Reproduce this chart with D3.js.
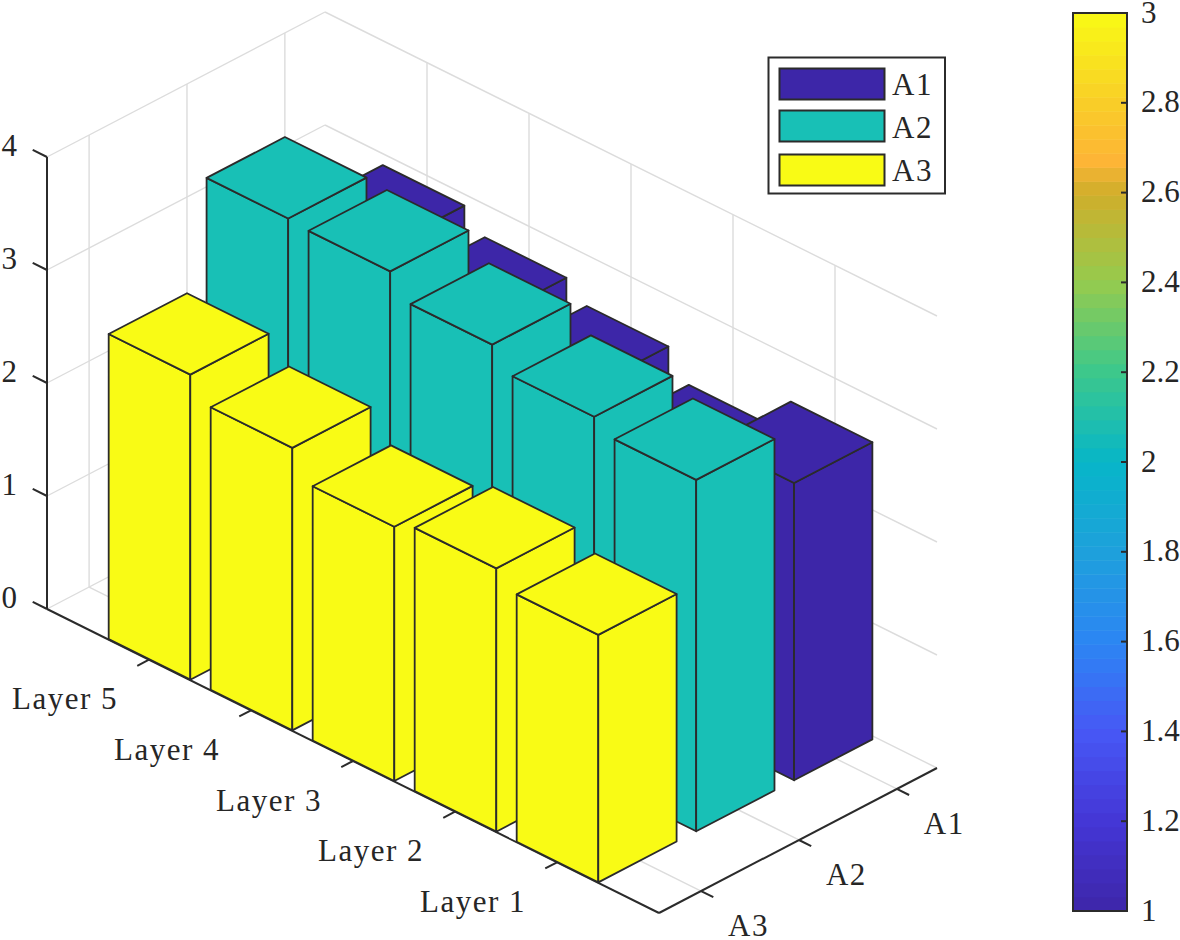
<!DOCTYPE html>
<html>
<head>
<meta charset="utf-8">
<script src="https://d3js.org/d3.v7.min.js"></script>
<style>
html, body { margin: 0; padding: 0; background: #fff; }
text { font-family: "Liberation Serif", serif; fill: #262626; }
</style>
</head>
<body>
<script>
// Data, back to front along the layer axis
var layers = ["Layer 5", "Layer 4", "Layer 3", "Layer 2", "Layer 1"];
var series = ["A3", "A2", "A1"];
var a1 = [2.93, 2.74, 2.58, 2.33, 2.63];
var a2 = [3.63, 3.61, 3.41, 3.22, 3.11];
var a3 = [2.70, 2.50, 2.25, 2.33, 2.19];
var zTicks = [0, 1, 2, 3, 4];
var cbTicks = [1, 1.2, 1.4, 1.6, 1.8, 2, 2.2, 2.4, 2.6, 2.8, 3];
var cbStops = [1, 1.2, 1.4, 1.6, 1.8, 2, 2.2, 2.4, 2.6, 2.67, 2.8, 3];
var cbColors = ["#3d26a8", "#4436d6", "#4758f5", "#2c86f3", "#1ea0dc", "#07b6c8",
                "#3cc88c", "#95cb4e", "#d0ae2a", "#fdb536", "#f9ce28", "#f9fb15"];
var barColors = {A1: "#3d26a8", A2: "#18c0b6", A3: "#f9fb15"};
var legendItems = ["A1", "A2", "A3"];

var width = 1180, height = 940;
var svg = d3.select("body").append("svg")
    .attr("width", width)
    .attr("height", height)
    .style("display", "block");

// Oblique projection: each data axis gets its own screen offset scales
var origin = {x: 47, y: 609};
var layerMax = 6, depthMax = 2.84, depthStart = 0.43, barStart = 0.405, barHalf = 0.4;
var layerX = d3.scaleLinear().domain([0, layerMax]).range([0, 612]);
var layerY = d3.scaleLinear().domain([0, layerMax]).range([0, 304]);
var depthX = d3.scaleLinear().domain([0, depthMax]).range([0, 278]);
var depthY = d3.scaleLinear().domain([0, depthMax]).range([0, -145]);
var zY = d3.scaleLinear().domain([0, 4]).range([0, -452]);

function project(t, d, z) {
  return [origin.x + layerX(t) + depthX(d), origin.y + layerY(t) + depthY(d) + zY(z)];
}
var line = d3.line();

function seg(g, a, b, color, w) {
  g.append("path").attr("d", line([a, b])).attr("stroke", color)
    .attr("stroke-width", w).attr("fill", "none");
}

// Grid
var grid = svg.append("g");
var gridColor = "#dcdcdc";
zTicks.forEach(function(z) {
  seg(grid, project(0, 0, z), project(0, depthMax, z), gridColor, 1.4);
  seg(grid, project(0, depthMax, z), project(layerMax, depthMax, z), gridColor, 1.4);
});
layers.forEach(function(l, i) {
  var t = i + 1;
  seg(grid, project(t, depthMax, 0), project(t, depthMax, 4), gridColor, 1.4);
  seg(grid, project(t, 0, 0), project(t, depthMax, 0), gridColor, 1.4);
});
series.forEach(function(s, j) {
  var d = depthStart + j;
  seg(grid, project(0, d, 0), project(0, d, 4), gridColor, 1.4);
  seg(grid, project(0, d, 0), project(layerMax, d, 0), gridColor, 1.4);
});

// Axes
var axes = svg.append("g");
var axisColor = "#2b2b2b";
seg(axes, project(0, 0, 0), project(0, 0, 4), axisColor, 2);
seg(axes, project(0, 0, 0), project(layerMax, 0, 0), axisColor, 2);
seg(axes, project(layerMax, 0, 0), project(layerMax, depthMax, 0), axisColor, 2);

zTicks.forEach(function(z) {
  var p = project(0, 0, z);
  seg(axes, p, project(-0.14, 0, z), axisColor, 2);
  axes.append("text").attr("x", 17).attr("y", p[1] - 1)
    .attr("text-anchor", "end").attr("font-size", 31).text(z);
});
layers.forEach(function(l, i) {
  var p = project(i + 1, 0, 0);
  seg(axes, p, project(i + 1, -0.12, 0), axisColor, 2);
  axes.append("text").attr("x", p[0] - 31).attr("y", p[1] + 49.5)
    .attr("text-anchor", "end").attr("font-size", 31).attr("letter-spacing", 1.5).text(l);
});
series.forEach(function(s, j) {
  var p = project(layerMax, depthStart + j, 0);
  seg(axes, p, project(layerMax + 0.12, depthStart + j, 0), axisColor, 2);
  axes.append("text").attr("x", p[0] + 27).attr("y", p[1] + 45)
    .attr("font-size", 31).attr("letter-spacing", 1.5).text(s);
});

// Bars, painted back to front
var barValues = {A1: a1, A2: a2, A3: a3};
var bars = [];
layers.forEach(function(l, i) {
  for (var j = series.length - 1; j >= 0; j--) {
    bars.push({t: i + 1, d: barStart + j, h: barValues[series[j]][i], color: barColors[series[j]]});
  }
});
var barG = svg.append("g").selectAll("g").data(bars).enter().append("g")
    .attr("fill", function(b) { return b.color; })
    .attr("stroke", "#2b2b2b")
    .attr("stroke-width", 1.8)
    .attr("stroke-linejoin", "round");

function face(pts) { return line(pts) + "Z"; }
// left face
barG.append("path").attr("d", function(b) {
  return face([project(b.t - barHalf, b.d - barHalf, 0), project(b.t + barHalf, b.d - barHalf, 0),
               project(b.t + barHalf, b.d - barHalf, b.h), project(b.t - barHalf, b.d - barHalf, b.h)]);
});
// right face
barG.append("path").attr("d", function(b) {
  return face([project(b.t + barHalf, b.d - barHalf, 0), project(b.t + barHalf, b.d + barHalf, 0),
               project(b.t + barHalf, b.d + barHalf, b.h), project(b.t + barHalf, b.d - barHalf, b.h)]);
});
// top
barG.append("path").attr("d", function(b) {
  return face([project(b.t - barHalf, b.d - barHalf, b.h), project(b.t + barHalf, b.d - barHalf, b.h),
               project(b.t + barHalf, b.d + barHalf, b.h), project(b.t - barHalf, b.d + barHalf, b.h)]);
});

// Legend
var legend = svg.append("g");
legend.append("rect").attr("x", 768.5).attr("y", 57.5).attr("width", 176.5).attr("height", 136)
    .attr("fill", "#fff").attr("stroke", "#2b2b2b").attr("stroke-width", 2);
var legendTop = d3.scalePoint().domain(legendItems).range([68.5, 154.5]);
legendItems.forEach(function(s) {
  legend.append("rect").attr("x", 779.5).attr("y", legendTop(s) - (s === "A2" ? 1 : 0)).attr("width", 105).attr("height", 31)
      .attr("fill", barColors[s]).attr("stroke", "#2b2b2b").attr("stroke-width", 2);
  legend.append("text").attr("x", 892).attr("y", legendTop(s) + 26)
      .attr("font-size", 31).attr("letter-spacing", 1.5).text(s);
});

// Colorbar
var cbX = 1073, cbW = 54;
var cbY = d3.scaleLinear().domain([1, 3]).range([911, 13]);
var cbColor = d3.scaleLinear().domain(cbStops).range(cbColors);
var nBands = 64;
var bands = d3.range(nBands);
var bandValue = d3.scaleLinear().domain([0, nBands]).range([1, 3]);
var cb = svg.append("g");
cb.selectAll("rect").data(bands).enter().append("rect")
    .attr("x", cbX).attr("width", cbW)
    .attr("y", function(k) { return cbY(bandValue(k + 1)); })
    .attr("height", function(k) { return cbY(bandValue(k)) - cbY(bandValue(k + 1)) + 0.5; })
    .attr("fill", function(k) { return cbColor(bandValue(k + 0.5)); });
cb.append("rect").attr("x", cbX).attr("y", cbY(3)).attr("width", cbW).attr("height", cbY(1) - cbY(3))
    .attr("fill", "none").attr("stroke", "#2b2b2b").attr("stroke-width", 2);
cbTicks.forEach(function(v) {
  if (v > 1 && v < 3) {
    seg(cb, [cbX + cbW, cbY(v)], [cbX + cbW - 6, cbY(v)], "#2b2b2b", 2);
  }
  cb.append("text").attr("x", 1141).attr("y", cbY(v) + 9.5)
      .attr("font-size", 31).text(v);
});
</script>
</body>
</html>
